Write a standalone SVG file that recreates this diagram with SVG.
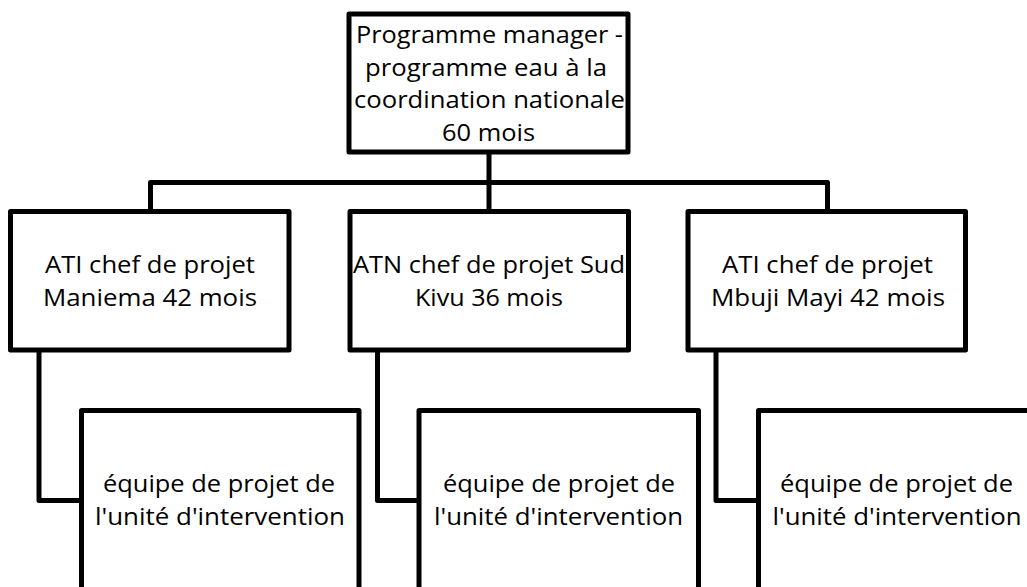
<svg xmlns="http://www.w3.org/2000/svg" width="1027" height="587" viewBox="0 0 1027 587">
<style>
.box{fill:#fff;stroke:#000;stroke-width:5;stroke-linejoin:round}
.con{fill:none;stroke:#000;stroke-width:5;stroke-linejoin:round}
text{font-family:"Open Sans","Liberation Sans",sans-serif;font-size:23.5px;fill:#000;text-anchor:middle}
</style>
<rect width="1027" height="587" fill="#fff"/>
<g id="connectors">
<path class="con" d="M489 152V182.5M150.5 213V182.5H827.5V213M489 182.5V213"/>
<path class="con" d="M39 350V500.5H82"/>
<path class="con" d="M377.5 350V500.5H419"/>
<path class="con" d="M716 350V500.5H759"/>
</g>
<g id="top">
<rect class="box" x="349" y="14" width="279" height="138"/>
<text x="489.5" y="43" textLength="267" lengthAdjust="spacingAndGlyphs">Programme manager -</text>
<text x="486" y="75.5" textLength="242" lengthAdjust="spacingAndGlyphs">programme eau à la</text>
<text x="489.5" y="108" textLength="271" lengthAdjust="spacingAndGlyphs">coordination nationale</text>
<text x="488.5" y="140.5" textLength="93" lengthAdjust="spacingAndGlyphs">60 mois</text>
</g>
<g id="maniema">
<rect class="box" x="10.5" y="211.5" width="278.5" height="138.5"/>
<text x="150" y="273" textLength="210" lengthAdjust="spacingAndGlyphs">ATI chef de projet</text>
<text x="150" y="306" textLength="214" lengthAdjust="spacingAndGlyphs">Maniema 42 mois</text>
</g>
<g id="sudkivu">
<rect class="box" x="350" y="211.5" width="278.5" height="138.5"/>
<text x="489" y="273" textLength="272" lengthAdjust="spacingAndGlyphs">ATN chef de projet Sud</text>
<text x="489" y="306" textLength="148" lengthAdjust="spacingAndGlyphs">Kivu 36 mois</text>
</g>
<g id="mbujimayi">
<rect class="box" x="688" y="211.5" width="277.5" height="138.5"/>
<text x="827.5" y="273" textLength="211" lengthAdjust="spacingAndGlyphs">ATI chef de projet</text>
<text x="828" y="306" textLength="234" lengthAdjust="spacingAndGlyphs">Mbuji Mayi 42 mois</text>
</g>
<g id="equipe1">
<rect class="box" x="81.5" y="410.5" width="277.5" height="190"/>
<text x="219" y="492" textLength="232" lengthAdjust="spacingAndGlyphs">équipe de projet de</text>
<text x="220" y="525" textLength="250" lengthAdjust="spacingAndGlyphs">l'unité d'intervention</text>
</g>
<g id="equipe2">
<rect class="box" x="419" y="410.5" width="279.5" height="190"/>
<text x="559" y="492" textLength="232" lengthAdjust="spacingAndGlyphs">équipe de projet de</text>
<text x="558.5" y="525" textLength="249" lengthAdjust="spacingAndGlyphs">l'unité d'intervention</text>
</g>
<g id="equipe3">
<rect class="box" x="758.5" y="410.5" width="279" height="190"/>
<text x="896.5" y="492" textLength="233" lengthAdjust="spacingAndGlyphs">équipe de projet de</text>
<text x="897" y="525" textLength="249" lengthAdjust="spacingAndGlyphs">l'unité d'intervention</text>
</g>
</svg>
